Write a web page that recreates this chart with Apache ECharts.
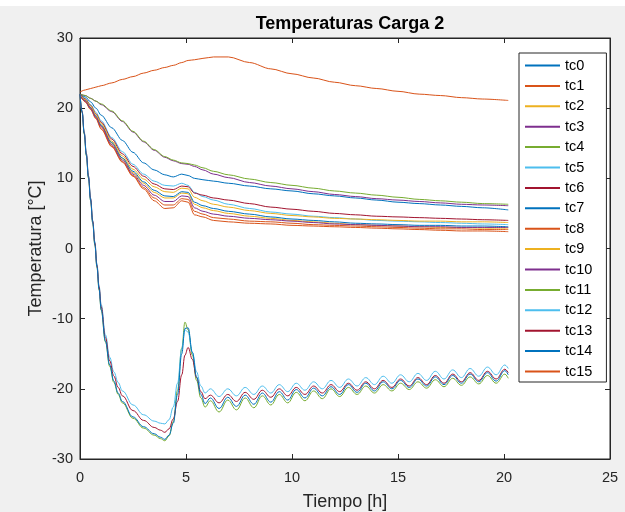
<!DOCTYPE html>
<html>
<head>
<meta charset="utf-8">
<script src="https://cdn.jsdelivr.net/npm/echarts@6/dist/echarts.min.js"></script>
<style>
html,body{margin:0;padding:0;background:#f0f0f0;}
#c{width:625px;height:512px;}
</style>
</head>
<body>
<div id="c"></div>
<script>
// ---- data ----
const names = ['tc0','tc1','tc2','tc3','tc4','tc5','tc6','tc7','tc8','tc9','tc10','tc11','tc12','tc13','tc14','tc15'];
const colors = ['#0072BD','#D95319','#EDB120','#7E2F8E','#77AC30','#4DBEEE','#A2142F',
                '#0072BD','#D95319','#EDB120','#7E2F8E','#77AC30','#4DBEEE','#A2142F','#0072BD','#D95319'];
const xTicks = [0, 5, 10, 15, 20, 25];
const yTicks = [-30, -20, -10, 0, 10, 20, 30];

// time base for middle/top curves (h)
const tMid = [0,0.25,0.5,0.75,1,1.5,2,2.5,3,3.5,4,4.4,4.8,5.1,5.4,5.8,6.3,7,8,9,10,11,12,13,14,15,16,17,18,19,20.2];
const tc0  = [22.0,21.6,20.9,20.0,19.0,17.2,15.4,13.7,12.2,11.2,10.5,10.2,10.6,10.4,10.0,9.8,9.6,9.3,8.9,8.5,8.2,7.8,7.5,7.2,6.9,6.6,6.4,6.2,6.0,5.8,5.5];
const tc1  = [21.8,20.9,19.9,18.6,17.2,14.6,12.4,10.4,8.7,7.2,6.2,6.2,7.1,7.0,5.3,4.9,4.4,4.2,3.9,3.8,3.6,3.4,3.3,3.2,3.1,3.0,2.9,2.8,2.8,2.7,2.7];
const tc2  = [21.9,21.1,20.1,18.8,17.5,15.0,12.8,10.8,9.3,8.0,7.2,7.2,7.9,7.8,6.3,5.8,5.4,5.0,4.6,4.3,4.0,3.8,3.6,3.4,3.3,3.2,3.1,3.0,3.0,2.9,2.9];
const tc3  = [22.0,21.8,21.4,21.0,20.5,19.5,18.1,16.6,15.2,14.0,13.0,12.5,12.1,12.0,11.7,11.2,10.6,10.1,9.4,8.9,8.5,8.1,7.7,7.4,7.1,6.9,6.7,6.5,6.3,6.2,6.1];
const tc4  = [22.0,21.8,21.4,21.0,20.6,19.6,18.2,16.7,15.3,14.1,13.1,12.6,12.2,12.1,11.9,11.5,11.0,10.5,9.9,9.4,9.0,8.6,8.2,7.9,7.6,7.3,7.0,6.8,6.6,6.4,6.3];
const tc5  = [22.0,21.4,20.5,19.4,18.2,15.8,13.8,12.0,10.6,9.6,9.0,8.9,9.3,9.0,8.0,7.4,6.9,6.3,5.7,5.2,4.9,4.6,4.4,4.2,4.0,3.9,3.8,3.7,3.6,3.5,3.4];
const tc6  = [22.0,21.3,20.4,19.2,18.0,15.6,13.5,11.7,10.3,9.2,8.5,8.4,8.9,8.8,7.9,7.6,7.2,6.9,6.4,5.9,5.6,5.3,5.0,4.8,4.6,4.5,4.4,4.3,4.2,4.1,4.0];
const tc7  = [21.9,21.1,20.1,18.9,17.6,15.1,12.9,11.0,9.5,8.3,7.5,7.4,8.1,8.0,6.6,6.1,5.7,5.3,4.9,4.5,4.2,4.0,3.8,3.6,3.5,3.4,3.3,3.3,3.2,3.2,3.1];
const tc8  = [21.8,20.9,19.8,18.5,17.0,14.5,12.3,10.3,8.5,6.8,5.7,5.8,6.8,6.6,4.8,4.5,4.0,3.8,3.6,3.5,3.3,3.2,3.1,3.0,2.9,2.8,2.7,2.6,2.5,2.5,2.4];
const tc9  = [21.9,21.2,20.3,19.1,17.8,15.3,13.2,11.3,9.9,8.8,8.1,8.0,8.6,8.5,7.3,6.8,6.3,5.9,5.4,5.0,4.7,4.5,4.3,4.2,4.1,4.0,3.9,3.9,3.8,3.8,3.7];
const tc10 = [21.8,21.0,20.0,18.7,17.4,14.8,12.6,10.6,9.0,7.6,6.7,6.7,7.5,7.4,5.8,5.3,4.9,4.6,4.3,4.1,3.9,3.7,3.5,3.4,3.3,3.2,3.1,3.1,3.0,3.0,3.0];
const tc15 = [22.3,22.6,22.8,23.0,23.2,23.6,24.1,24.5,25.0,25.4,25.8,26.1,26.5,26.8,26.9,27.1,27.3,27.3,26.5,25.6,24.9,24.3,23.7,23.2,22.8,22.4,22.0,21.8,21.5,21.3,21.1];

// time base for the freezer curves (h)
const tLow = [0,0.1,0.2,0.3,0.4,0.5,0.6,0.7,0.8,0.9,1.0,1.2,1.4,1.6,1.8,2.0,2.5,3.0,3.5,3.8,4.0,4.2,4.4,4.6,4.8,4.95,5.1,5.3,5.5,5.7,5.9,
  6.15,6.56,6.97,7.38,7.79,8.2,8.6,9.0,9.4,9.8,10.2,10.61,11.02,11.43,11.84,12.25,12.66,13.07,13.48,13.89,14.3,14.71,15.12,15.53,15.94,16.35,16.76,17.17,17.58,17.99,18.4,18.81,19.22,19.63,20.04,20.2];
const tc11 = [22.0,19.4,16.3,13.2,10.0,6.8,3.6,0.5,-2.7,-5.9,-8.8,-13.3,-16.8,-19.1,-20.8,-22.0,-24.2,-25.6,-26.6,-27.1,-27.4,-26.7,-24.7,-20.2,-14.2,-10.5,-11.6,-15.2,-18.8,-21.3,-22.6,
  -21.7,-23.3,-21.6,-23.0,-21.3,-22.7,-21.0,-22.3,-20.8,-22.0,-20.5,-21.7,-20.3,-21.4,-20.0,-21.1,-19.8,-20.8,-19.6,-20.6,-19.4,-20.3,-19.2,-20.1,-19.0,-19.9,-18.7,-19.7,-18.5,-19.5,-18.3,-19.3,-18.1,-19.2,-17.9,-18.5];
const tc12 = [22.0,19.6,16.6,13.6,10.4,7.2,4.0,1.0,-2.2,-5.3,-8.0,-12.3,-15.5,-17.6,-19.1,-20.3,-22.3,-23.7,-24.6,-24.9,-25.0,-24.4,-22.6,-19.2,-14.3,-11.6,-11.9,-14.8,-17.6,-19.6,-20.6,
  -20.0,-21.1,-20.0,-21.0,-19.8,-20.8,-19.6,-20.6,-19.4,-20.4,-19.2,-20.2,-19.0,-20.0,-18.8,-19.8,-18.6,-19.6,-18.4,-19.4,-18.2,-19.2,-18.0,-19.0,-17.8,-18.8,-17.5,-18.6,-17.3,-18.4,-17.1,-18.2,-16.9,-18.0,-16.6,-17.1];
const tc13 = [22.0,19.5,16.5,13.5,10.3,7.1,3.9,0.8,-2.4,-5.5,-8.3,-12.7,-16.0,-18.2,-19.8,-21.0,-23.1,-24.5,-25.5,-25.9,-26.2,-25.7,-24.3,-21.8,-18.0,-15.2,-14.1,-15.8,-18.4,-20.4,-21.4,
  -20.9,-22.0,-20.8,-21.8,-20.5,-21.5,-20.2,-21.2,-20.0,-21.0,-19.8,-20.8,-19.6,-20.6,-19.4,-20.4,-19.2,-20.2,-19.0,-20.0,-18.8,-19.8,-18.6,-19.6,-18.4,-19.4,-18.1,-19.2,-17.9,-19.0,-17.7,-18.8,-17.5,-18.6,-17.2,-17.7];
const tc14 = [22.0,19.4,16.4,13.3,10.1,6.9,3.7,0.6,-2.6,-5.8,-8.7,-13.2,-16.6,-18.9,-20.6,-21.8,-24.0,-25.4,-26.4,-26.9,-27.2,-26.6,-24.9,-20.8,-15.0,-11.4,-11.3,-14.8,-18.3,-20.8,-22.1,
  -21.3,-22.8,-21.2,-22.5,-20.9,-22.2,-20.6,-21.9,-20.4,-21.6,-20.1,-21.3,-19.9,-21.0,-19.7,-20.8,-19.4,-20.5,-19.2,-20.3,-19.0,-20.0,-18.8,-19.8,-18.6,-19.6,-18.3,-19.4,-18.1,-19.2,-17.9,-19.0,-17.7,-18.9,-17.4,-18.0];

const midSeries = {tc0, tc1, tc2, tc3, tc4, tc5, tc6, tc7, tc8, tc9, tc10, tc15};
const lowSeries = {tc11, tc12, tc13, tc14};

// ---- chart ----
const chart = echarts.init(document.getElementById('c'), null, {renderer: 'canvas'});
const axisColor = '#262626';
const font = 'Liberation Sans, Arial, Helvetica, sans-serif';

const series = names.map((n, i) => {
  const isLow = n in lowSeries;
  const t = isLow ? tLow : tMid;
  const v = isLow ? lowSeries[n] : midSeries[n];
  return {
    name: n,
    type: 'line',
    data: t.map((x, k) => [x, v[k]]),
    showSymbol: false,
    symbol: 'none',
    smooth: isLow ? 0.4 : 0.3,
    smoothMonotone: 'x',
    lineStyle: {color: colors[i], width: 1},
    itemStyle: {color: colors[i]},
    animation: false
  };
});

const axisCommon = {
  axisLine: {show: true, onZero: false, lineStyle: {color: axisColor}},
  axisTick: {show: true, inside: true, length: 5, lineStyle: {color: axisColor}},
  splitLine: {show: false}
};

const option = {
  backgroundColor: '#f0f0f0',
  animation: false,
  title: {
    text: 'Temperaturas Carga 2',
    left: 345, top: 10, textAlign: 'center',
    textStyle: {fontFamily: font, fontSize: 18, fontWeight: 'bold', color: '#000'}
  },
  grid: {left: 80, right: 15, top: 38, bottom: 53, containLabel: false, outerBoundsMode: 'none',
         show: true, backgroundColor: '#fff', borderColor: axisColor, borderWidth: 1},
  legend: {
    data: names,
    orient: 'vertical',
    left: 519, top: 53,
    padding: [5, 14, 3, 6],
    itemWidth: 35, itemHeight: 2,
    itemGap: 5.4,
    icon: 'rect',
    backgroundColor: '#fff',
    borderColor: axisColor, borderWidth: 1,
    textStyle: {fontFamily: font, fontSize: 14.5, color: '#000', lineHeight: 15}
  },
  xAxis: [Object.assign({
    type: 'value', min: 0, max: 25, interval: 5, position: 'bottom',
    name: 'Tiempo [h]', nameLocation: 'middle', nameGap: 34, nameMoveOverlap: false,
    nameTextStyle: {fontFamily: font, fontSize: 18, color: axisColor},
    axisLabel: {fontFamily: font, fontSize: 14.5, color: axisColor, margin: 11}
  }, axisCommon), Object.assign({
    type: 'value', min: 0, max: 25, interval: 5, position: 'top',
    axisLabel: {show: false}
  }, axisCommon)],
  yAxis: [Object.assign({
    type: 'value', min: -30, max: 30, interval: 10, position: 'left',
    name: 'Temperatura [°C]', nameLocation: 'middle', nameGap: 35, nameMoveOverlap: false,
    nameTextStyle: {fontFamily: font, fontSize: 18, color: axisColor},
    axisLabel: {fontFamily: font, fontSize: 14.5, color: axisColor, margin: 7}
  }, axisCommon), Object.assign({
    type: 'value', min: -30, max: 30, interval: 10, position: 'right',
    axisLabel: {show: false}
  }, axisCommon)],
  graphic: [{type: 'rect', left: 0, top: 0, shape: {width: 625, height: 6}, style: {fill: '#fff'}, z: -1}],
  series: series
};
chart.setOption(option);
</script>
</body>
</html>
